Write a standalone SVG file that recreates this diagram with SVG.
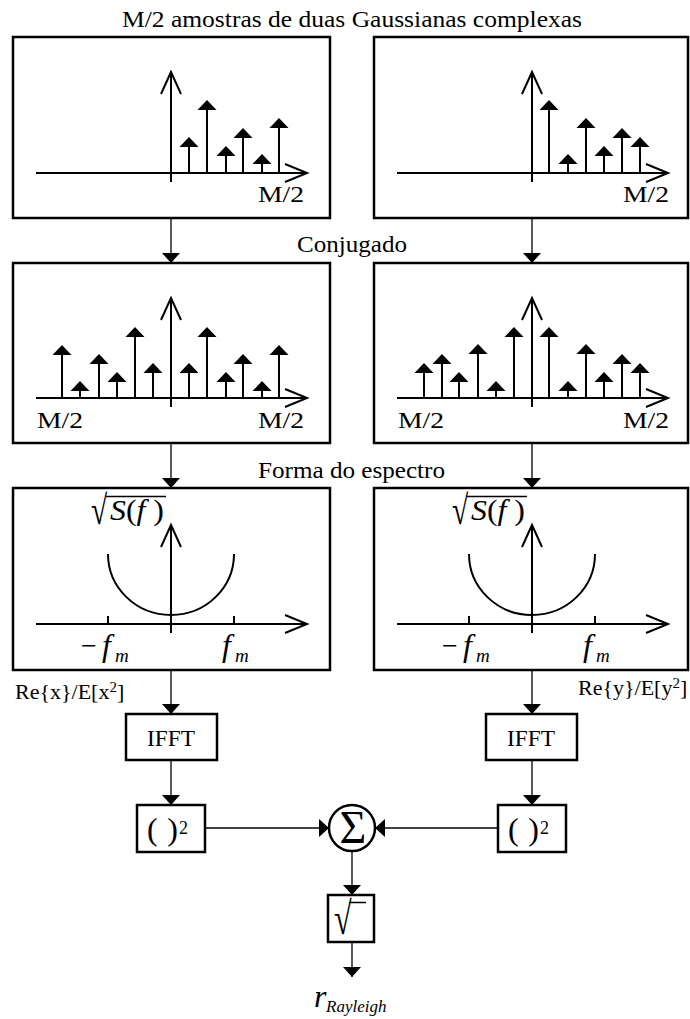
<svg xmlns="http://www.w3.org/2000/svg" xmlns:xlink="http://www.w3.org/1999/xlink" width="690" height="1019" viewBox="0 0 690 1019">
  <style>
    text { font-family: "Liberation Serif", "Times New Roman", serif; fill: #000; }
    .box { fill: #fff; stroke: #000; stroke-width: 2.5; }
    .axis { fill: none; stroke: #000; stroke-width: 2; }
    .stem { stroke: #000; stroke-width: 2; }
    .curve { fill: none; stroke: #000; stroke-width: 2; }
    .conn { fill: none; stroke: #000; stroke-width: 1.3; marker-end: url(#head); }
    .bar { stroke: #000; stroke-width: 1.5; }
    .it { font-style: italic; }
  </style>
  <defs>
    <marker id="head" markerUnits="userSpaceOnUse" viewBox="0 0 10 18" markerWidth="10" markerHeight="18" refX="10" refY="9" orient="auto">
      <path d="M0,0 L10,9 L0,18 Z" fill="#000"/>
    </marker>
    <!-- filled tip of a sample stem, apex at origin -->
    <path id="tip" d="M0,0 L9.5,10 L-9.5,10 Z" fill="#000"/>
  </defs>

  <!-- section captions -->
  <g id="captions">
    <text x="122" y="27" font-size="24" textLength="460" lengthAdjust="spacingAndGlyphs">M/2 amostras de duas Gaussianas complexas</text>
    <text x="297" y="252" font-size="24" textLength="110" lengthAdjust="spacingAndGlyphs">Conjugado</text>
    <text x="258" y="478" font-size="24" textLength="187" lengthAdjust="spacingAndGlyphs">Forma do espectro</text>
  </g>

  <!-- connectors -->
  <g id="connectors">
    <line class="conn" x1="171" y1="218" x2="171" y2="263"/>
    <line class="conn" x1="532" y1="218" x2="532" y2="263"/>
    <line class="conn" x1="171" y1="443" x2="171" y2="488"/>
    <line class="conn" x1="532" y1="443" x2="532" y2="488"/>
    <line class="conn" x1="171" y1="670" x2="171" y2="714"/>
    <line class="conn" x1="532" y1="670" x2="532" y2="714"/>
    <line class="conn" x1="171" y1="760" x2="171" y2="805"/>
    <line class="conn" x1="532" y1="760" x2="532" y2="805"/>
    <line class="conn" x1="205" y1="828" x2="329" y2="828"/>
    <line class="conn" x1="498" y1="828" x2="375" y2="828"/>
    <line class="conn" x1="352" y1="851" x2="352" y2="895"/>
    <line class="conn" x1="352" y1="942" x2="352" y2="977"/>
  </g>

  <!-- half-spectrum samples, x branch -->
  <g id="samples-x">
    <rect class="box" x="13" y="37" width="317" height="181"/>
    <path class="axis" d="M36,173 H307 M285,164 L307,173 L285,182 M171,182 V72 M161,94 L171,72 L181,94"/>
    <g class="stem">
      <line x1="189" y1="173" x2="189" y2="147"/><line x1="207" y1="173" x2="207" y2="110"/>
      <line x1="226" y1="173" x2="226" y2="156"/><line x1="243" y1="173" x2="243" y2="138"/>
      <line x1="262" y1="173" x2="262" y2="164"/><line x1="279" y1="173" x2="279" y2="128"/>
    </g>
    <use xlink:href="#tip" x="189" y="137"/><use xlink:href="#tip" x="207" y="100"/>
    <use xlink:href="#tip" x="226" y="146"/><use xlink:href="#tip" x="243" y="128"/>
    <use xlink:href="#tip" x="262" y="154"/><use xlink:href="#tip" x="279" y="118"/>
    <text x="258" y="202" font-size="23" textLength="46" lengthAdjust="spacingAndGlyphs">M/2</text>
  </g>

  <!-- half-spectrum samples, y branch -->
  <g id="samples-y">
    <rect class="box" x="374" y="37" width="314" height="181"/>
    <path class="axis" d="M397,173 H668 M646,164 L668,173 L646,182 M532,182 V72 M522,94 L532,72 L542,94"/>
    <g class="stem">
      <line x1="549" y1="173" x2="549" y2="110"/><line x1="568" y1="173" x2="568" y2="164"/>
      <line x1="586" y1="173" x2="586" y2="128"/><line x1="604" y1="173" x2="604" y2="156"/>
      <line x1="622" y1="173" x2="622" y2="138"/><line x1="640" y1="173" x2="640" y2="147"/>
    </g>
    <use xlink:href="#tip" x="549" y="100"/><use xlink:href="#tip" x="568" y="154"/>
    <use xlink:href="#tip" x="586" y="118"/><use xlink:href="#tip" x="604" y="146"/>
    <use xlink:href="#tip" x="622" y="128"/><use xlink:href="#tip" x="640" y="137"/>
    <text x="623" y="202" font-size="23" textLength="46" lengthAdjust="spacingAndGlyphs">M/2</text>
  </g>

  <!-- conjugate-symmetric spectrum, x branch -->
  <g id="conj-x">
    <rect class="box" x="13" y="263" width="317" height="180"/>
    <path class="axis" d="M36,398 H307 M285,389 L307,398 L285,407 M171,407 V298 M161,320 L171,298 L181,320"/>
    <g class="stem">
      <line x1="62" y1="398" x2="62" y2="355"/><line x1="80" y1="398" x2="80" y2="391"/>
      <line x1="99" y1="398" x2="99" y2="364"/><line x1="117" y1="398" x2="117" y2="382"/>
      <line x1="135" y1="398" x2="135" y2="337"/><line x1="153" y1="398" x2="153" y2="373"/>
      <line x1="189" y1="398" x2="189" y2="373"/><line x1="207" y1="398" x2="207" y2="337"/>
      <line x1="226" y1="398" x2="226" y2="382"/><line x1="243" y1="398" x2="243" y2="364"/>
      <line x1="262" y1="398" x2="262" y2="391"/><line x1="279" y1="398" x2="279" y2="355"/>
    </g>
    <use xlink:href="#tip" x="62" y="345"/><use xlink:href="#tip" x="80" y="381"/>
    <use xlink:href="#tip" x="99" y="354"/><use xlink:href="#tip" x="117" y="372"/>
    <use xlink:href="#tip" x="135" y="327"/><use xlink:href="#tip" x="153" y="363"/>
    <use xlink:href="#tip" x="189" y="363"/><use xlink:href="#tip" x="207" y="327"/>
    <use xlink:href="#tip" x="226" y="372"/><use xlink:href="#tip" x="243" y="354"/>
    <use xlink:href="#tip" x="262" y="381"/><use xlink:href="#tip" x="279" y="345"/>
    <text x="37" y="428" font-size="23" textLength="46" lengthAdjust="spacingAndGlyphs">M/2</text>
    <text x="258" y="428" font-size="23" textLength="46" lengthAdjust="spacingAndGlyphs">M/2</text>
  </g>

  <!-- conjugate-symmetric spectrum, y branch -->
  <g id="conj-y">
    <rect class="box" x="374" y="263" width="314" height="180"/>
    <path class="axis" d="M397,398 H668 M646,389 L668,398 L646,407 M532,407 V298 M522,320 L532,298 L542,320"/>
    <g class="stem">
      <line x1="424" y1="398" x2="424" y2="373"/><line x1="442" y1="398" x2="442" y2="364"/>
      <line x1="459" y1="398" x2="459" y2="382"/><line x1="478" y1="398" x2="478" y2="354"/>
      <line x1="496" y1="398" x2="496" y2="391"/><line x1="514" y1="398" x2="514" y2="337"/>
      <line x1="549" y1="398" x2="549" y2="337"/><line x1="568" y1="398" x2="568" y2="391"/>
      <line x1="586" y1="398" x2="586" y2="354"/><line x1="604" y1="398" x2="604" y2="382"/>
      <line x1="622" y1="398" x2="622" y2="364"/><line x1="640" y1="398" x2="640" y2="373"/>
    </g>
    <use xlink:href="#tip" x="424" y="363"/><use xlink:href="#tip" x="442" y="354"/>
    <use xlink:href="#tip" x="459" y="372"/><use xlink:href="#tip" x="478" y="344"/>
    <use xlink:href="#tip" x="496" y="381"/><use xlink:href="#tip" x="514" y="327"/>
    <use xlink:href="#tip" x="549" y="327"/><use xlink:href="#tip" x="568" y="381"/>
    <use xlink:href="#tip" x="586" y="344"/><use xlink:href="#tip" x="604" y="372"/>
    <use xlink:href="#tip" x="622" y="354"/><use xlink:href="#tip" x="640" y="363"/>
    <text x="398" y="428" font-size="23" textLength="46" lengthAdjust="spacingAndGlyphs">M/2</text>
    <text x="623" y="428" font-size="23" textLength="46" lengthAdjust="spacingAndGlyphs">M/2</text>
  </g>

  <!-- Doppler spectrum shaping, x branch -->
  <g id="shape-x">
    <rect class="box" x="13" y="488" width="317" height="182"/>
    <path class="axis" d="M36,624 H307 M285,615 L307,624 L285,633 M171,633 V525 M161,547 L171,525 L181,547 M108,616 V624 M234,616 V624"/>
    <path class="curve" d="M108,554 A63,61 0 0 0 234,554"/>
    <text transform="translate(91,524) scale(0.72,1)" font-size="41">√</text>
    <line class="bar" x1="106" y1="496.5" x2="166" y2="496.5"/>
    <text x="110" y="520" font-size="29" textLength="54" lengthAdjust="spacingAndGlyphs"><tspan class="it">S</tspan>(<tspan class="it">f</tspan> )</text>
    <text x="81" y="655" font-size="28">−</text>
    <text x="102" y="656" font-size="32" class="it">f</text>
    <text x="115" y="662" font-size="19" class="it">m</text>
    <text x="222" y="656" font-size="32" class="it">f</text>
    <text x="235" y="662" font-size="19" class="it">m</text>
  </g>

  <!-- Doppler spectrum shaping, y branch -->
  <g id="shape-y">
    <rect class="box" x="374" y="488" width="314" height="182"/>
    <path class="axis" d="M397,624 H668 M646,615 L668,624 L646,633 M532,633 V525 M522,547 L532,525 L542,547 M469,616 V624 M595,616 V624"/>
    <path class="curve" d="M469,554 A63,61 0 0 0 595,554"/>
    <text transform="translate(452,524) scale(0.72,1)" font-size="41">√</text>
    <line class="bar" x1="467" y1="496.5" x2="527" y2="496.5"/>
    <text x="471" y="520" font-size="29" textLength="54" lengthAdjust="spacingAndGlyphs"><tspan class="it">S</tspan>(<tspan class="it">f</tspan> )</text>
    <text x="442" y="655" font-size="28">−</text>
    <text x="463" y="656" font-size="32" class="it">f</text>
    <text x="476" y="662" font-size="19" class="it">m</text>
    <text x="583" y="656" font-size="32" class="it">f</text>
    <text x="596" y="662" font-size="19" class="it">m</text>
  </g>

  <!-- signal labels -->
  <g id="label-x">
    <text x="15" y="699" font-size="22">Re{x}/E[x<tspan dy="-7" font-size="15">2</tspan><tspan dy="7">]</tspan></text>
  </g>
  <g id="label-y">
    <text x="578" y="695" font-size="22">Re{y}/E[y<tspan dy="-7" font-size="15">2</tspan><tspan dy="7">]</tspan></text>
  </g>

  <!-- inverse FFT blocks -->
  <g id="ifft-x">
    <rect class="box" x="126" y="714" width="91" height="46"/>
    <text x="147" y="746" font-size="23" textLength="48" lengthAdjust="spacingAndGlyphs">IFFT</text>
  </g>
  <g id="ifft-y">
    <rect class="box" x="486" y="714" width="91" height="46"/>
    <text x="507" y="746" font-size="23" textLength="48" lengthAdjust="spacingAndGlyphs">IFFT</text>
  </g>

  <!-- squaring blocks -->
  <g id="square-x">
    <rect class="box" x="137" y="805" width="68" height="47"/>
    <text x="147" y="840" font-size="32" textLength="31" lengthAdjust="spacing">( )</text>
    <text x="179" y="834" font-size="18">2</text>
  </g>
  <g id="square-y">
    <rect class="box" x="498" y="805" width="68" height="47"/>
    <text x="508" y="840" font-size="32" textLength="31" lengthAdjust="spacing">( )</text>
    <text x="540" y="834" font-size="18">2</text>
  </g>

  <!-- summing junction -->
  <g id="sum">
    <circle cx="352" cy="828" r="23" fill="#fff" stroke="#000" stroke-width="2.5"/>
    <text x="353" y="843" font-size="46" text-anchor="middle">Σ</text>
  </g>

  <!-- square root block -->
  <g id="sqrt">
    <rect class="box" x="328" y="895" width="46" height="47"/>
    <text transform="translate(334,934) scale(0.7,1)" font-size="46">√</text>
    <line class="bar" x1="349" y1="902.5" x2="366" y2="902.5"/>
  </g>

  <!-- output -->
  <g id="output">
    <text x="314" y="1007" font-size="32" class="it">r</text>
    <text x="326" y="1012" font-size="17" class="it">Rayleigh</text>
  </g>
</svg>
